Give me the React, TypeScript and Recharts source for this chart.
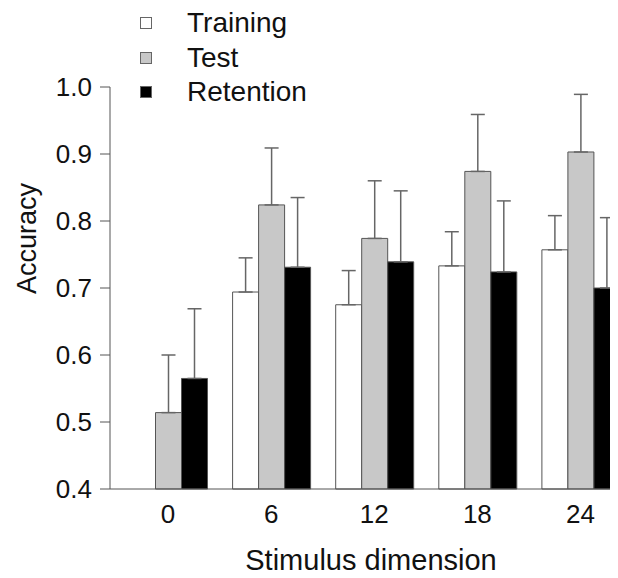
import React from 'react';
import { BarChart, Bar, XAxis, YAxis, ErrorBar } from 'recharts';

const categories = ['0', '6', '12', '18', '24'];
const training: (number | null)[] = [null, 0.694, 0.675, 0.733, 0.757];
const trainingErr: (number | null)[] = [null, 0.051, 0.051, 0.051, 0.051];
const test = [0.514, 0.824, 0.774, 0.874, 0.903];
const testErr = [0.086, 0.085, 0.086, 0.085, 0.086];
const retention = [0.565, 0.731, 0.739, 0.724, 0.7];
const retentionErr = [0.104, 0.104, 0.106, 0.106, 0.105];
const yTicks = [0.4, 0.5, 0.6, 0.7, 0.8, 0.9, 1.0];

const series = [
  { key: 'training', name: 'Training', fill: '#ffffff' },
  { key: 'test', name: 'Test', fill: '#c8c8c8' },
  { key: 'retention', name: 'Retention', fill: '#000000' },
];

const data = categories.map((c, i) => ({
  cat: c,
  training: training[i],
  trainingErr: trainingErr[i] == null ? null : [0, trainingErr[i]],
  test: test[i],
  testErr: [0, testErr[i]],
  retention: retention[i],
  retentionErr: [0, retentionErr[i]],
}));

const FONT = '"Liberation Sans", Arial, Helvetica, sans-serif';

const LegendBox = () => (
  <div
    style={{
      position: 'absolute',
      left: 132,
      top: -2,
      fontFamily: FONT,
      fontSize: 28,
      color: '#111',
      zIndex: 2,
    }}
  >
    {series.map((s) => (
      <div key={s.key} style={{ display: 'flex', alignItems: 'center', height: 34.5 }}>
        <div
          style={{
            width: 10,
            height: 10,
            background: s.fill,
            border: '1px solid #666',
            marginRight: 35,
          }}
        />
        <span>{s.name}</span>
      </div>
    ))}
  </div>
);

export default function App() {
  return (
    <div style={{ width: 610, height: 570, overflow: 'hidden', position: 'relative' }}>
      <BarChart
        width={624}
        height={570}
        data={data}
        margin={{ top: 79, right: 0, bottom: 29, left: 22 }}
        barGap={0}
        barSize={26}
      >
        <XAxis
          dataKey="cat"
          axisLine={{ stroke: '#555', strokeWidth: 1 }}
          tickLine={false}
          tickSize={8}
          tickMargin={8}
          height={60}
          padding={{ left: 6.5, right: 0 }}
          tick={{ fill: '#111', fontSize: 26, fontFamily: FONT }}
          label={{
            value: 'Stimulus dimension',
            position: 'insideBottom',
            offset: 0,
            dy: 21,
            fill: '#111',
            fontSize: 29,
            fontFamily: FONT,
          }}
        />
        <YAxis
          domain={[0.4, 1.0]}
          ticks={yTicks}
          width={80}
          axisLine={{ stroke: '#555', strokeWidth: 1 }}
          tickLine={{ stroke: '#555', strokeWidth: 1 }}
          tickSize={10}
          tickMargin={8}
          tickFormatter={(v: number) => v.toFixed(1)}
          tick={{ fill: '#111', fontSize: 26, fontFamily: FONT }}
          label={{
            value: 'Accuracy',
            angle: -90,
            position: 'insideLeft',
            offset: 0,
            dx: -4,
            dy: 6,
            fill: '#111',
            fontSize: 27,
            fontFamily: FONT,
          }}
        />
        {series.map((s) => (
          <Bar
            key={s.key}
            dataKey={s.key}
            name={s.name}
            fill={s.fill}
            stroke="#555"
            strokeWidth={1}
            isAnimationActive={false}
          >
            <ErrorBar
              dataKey={`${s.key}Err`}
              direction="y"
              width={7}
              stroke="#666"
              strokeWidth={1.5}
            />
          </Bar>
        ))}
      </BarChart>
      <LegendBox />
    </div>
  );
}
